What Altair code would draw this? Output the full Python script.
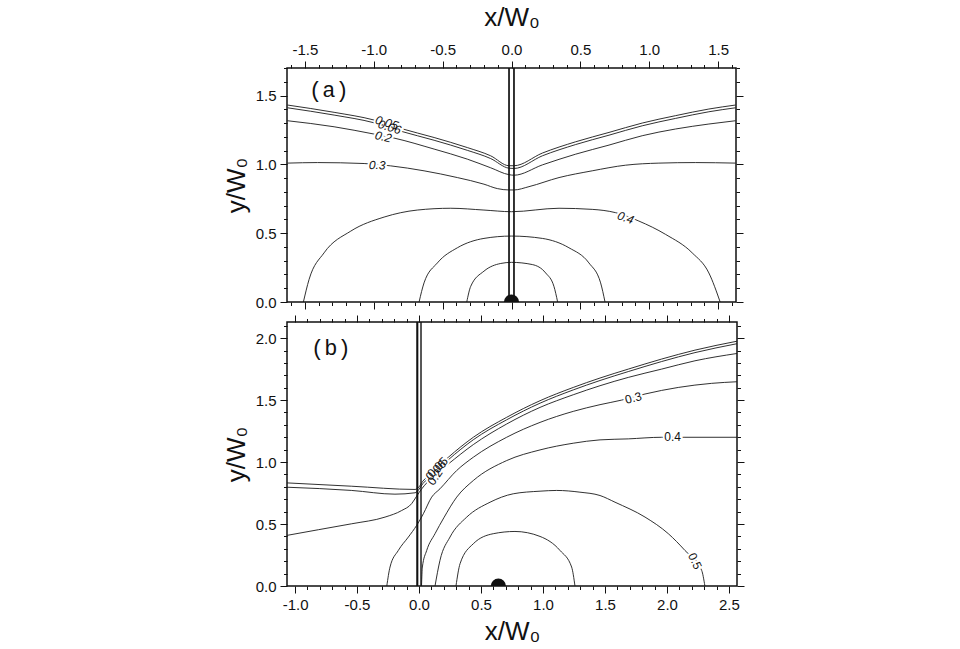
import altair as alt
import pandas as pd

FONT = "Liberation Sans"

# ---------------- panel (a) ----------------
a_x_domain = [-1.63, 1.63]
a_y_domain = [0.0, 1.70]
a_x_ticks = [round(i * 0.1, 1) for i in range(-16, 17)]
a_y_ticks = [round(i * 0.1, 1) for i in range(0, 18)]

a_005_x = [-1.627, -1.288, -0.998, -0.804, -0.562, -0.321, -0.151, -0.018, 0.018, 0.224, 0.466, 0.708, 0.949, 1.192, 1.433, 1.627]
a_005_y = [1.431, 1.378, 1.322, 1.261, 1.195, 1.122, 1.062, 0.990, 0.990, 1.082, 1.164, 1.232, 1.300, 1.354, 1.402, 1.431]
a_006_x = [-1.627, -1.288, -0.998, -0.804, -0.562, -0.321, -0.151, -0.018, 0.018, 0.224, 0.466, 0.708, 0.949, 1.192, 1.433, 1.627]
a_006_y = [1.411, 1.358, 1.302, 1.241, 1.175, 1.102, 1.042, 0.972, 0.970, 1.062, 1.144, 1.212, 1.280, 1.334, 1.382, 1.411]
a_02_x = [-1.627, -1.288, -0.998, -0.853, -0.562, -0.321, -0.151, -0.018, 0.018, 0.224, 0.466, 0.708, 0.949, 1.192, 1.433, 1.627]
a_02_y = [1.317, 1.273, 1.220, 1.191, 1.111, 1.038, 0.975, 0.925, 0.921, 0.996, 1.074, 1.140, 1.208, 1.257, 1.293, 1.317]
a_03_x = [-1.627, -1.409, -1.070, -0.877, -0.635, -0.393, -0.200, -0.103, -0.018, 0.018, 0.127, 0.345, 0.586, 0.829, 1.070, 1.337, 1.627]
a_03_y = [1.009, 1.013, 1.006, 0.989, 0.953, 0.904, 0.856, 0.824, 0.814, 0.814, 0.838, 0.904, 0.953, 0.994, 1.009, 1.013, 1.009]
a_04_x = [-1.511, -1.470, -1.361, -1.167, -0.925, -0.684, -0.441, -0.200, 0.0, 0.345, 0.586, 0.756, 0.925, 1.119, 1.312, 1.433, 1.515]
a_04_y = [0.0, 0.163, 0.357, 0.515, 0.617, 0.668, 0.681, 0.668, 0.656, 0.681, 0.673, 0.649, 0.588, 0.491, 0.357, 0.211, 0.0]
a_05_x = [-0.671, -0.635, -0.538, -0.393, -0.200, 0.0, 0.224, 0.417, 0.562, 0.647, 0.679]
a_05_y = [0.0, 0.139, 0.284, 0.394, 0.462, 0.479, 0.462, 0.394, 0.284, 0.139, 0.0]
a_06_x = [-0.325, -0.296, -0.200, -0.078, 0.0, 0.151, 0.248, 0.308, 0.335]
a_06_y = [0.0, 0.114, 0.224, 0.280, 0.288, 0.272, 0.211, 0.114, 0.0]

a_label_text = ["0.05", "0.06", "0.2", "0.3", "0.4"]
a_label_x = [-0.905, -0.885, -0.931, -0.974, 0.829]
a_label_y = [1.302, 1.270, 1.200, 0.994, 0.612]
a_label_angle = [17, 17, 14, 2, 20]

a_walls = [-0.018, 0.018]
a_source_x = [0.0]
a_source_y = [0.0]
a_panel_label = ["(a)"]
a_panel_label_x = [-1.47]
a_panel_label_y = [1.543]

# ---------------- panel (b) ----------------
b_x_domain = [-1.065, 2.565]
b_y_domain = [0.0, 2.13]
b_x_ticks = [round(i * 0.1, 1) for i in range(-10, 26)]
b_y_ticks = [round(i * 0.1, 1) for i in range(0, 22)]

b_005_x = [-1.067, -0.543, -0.032, 0.0, 0.03, 0.07, 0.15, 0.237, 0.438, 0.707, 0.976, 1.244, 1.46, 1.688, 1.957, 2.226, 2.565]
b_005_y = [0.832, 0.805, 0.779, 0.80, 0.845, 0.885, 0.96, 1.039, 1.2, 1.361, 1.495, 1.602, 1.678, 1.75, 1.831, 1.903, 1.975]
b_006_x = [-1.067, -0.543, -0.194, -0.032, 0.0, 0.03, 0.07, 0.15, 0.237, 0.438, 0.707, 0.976, 1.244, 1.46, 1.688, 1.957, 2.226, 2.565]
b_006_y = [0.797, 0.771, 0.741, 0.752, 0.78, 0.825, 0.865, 0.94, 1.019, 1.18, 1.341, 1.475, 1.582, 1.658, 1.73, 1.811, 1.883, 1.955]
b_02_x = [-1.067, -0.812, -0.543, -0.274, -0.14, -0.059, -0.019, 0.022, 0.1, 0.169, 0.237, 0.438, 0.707, 0.976, 1.244, 1.46, 1.688, 1.957, 2.226, 2.565]
b_02_y = [0.408, 0.454, 0.502, 0.556, 0.609, 0.665, 0.725, 0.784, 0.87, 0.93, 0.985, 1.141, 1.307, 1.441, 1.543, 1.616, 1.683, 1.75, 1.817, 1.876]
b_03_x = [-0.26, -0.234, -0.167, -0.086, -0.019, 0.035, 0.102, 0.169, 0.304, 0.438, 0.707, 0.976, 1.244, 1.46, 1.635, 1.823, 2.091, 2.36, 2.565]
b_03_y = [0.0, 0.153, 0.287, 0.395, 0.489, 0.583, 0.717, 0.784, 0.932, 1.039, 1.2, 1.32, 1.409, 1.463, 1.5, 1.549, 1.602, 1.635, 1.648]
b_04_x = [0.02, 0.027, 0.062, 0.129, 0.2, 0.304, 0.438, 0.707, 0.976, 1.244, 1.46, 1.688, 1.957, 2.145, 2.565]
b_04_y = [0.0, 0.153, 0.287, 0.422, 0.55, 0.717, 0.851, 1.012, 1.098, 1.152, 1.179, 1.187, 1.2, 1.2, 1.2]
b_05_x = [0.129, 0.169, 0.25, 0.385, 0.573, 0.76, 0.976, 1.11, 1.298, 1.46, 1.581, 1.823, 2.011, 2.145, 2.28, 2.306]
b_05_y = [0.0, 0.207, 0.395, 0.556, 0.676, 0.744, 0.765, 0.771, 0.757, 0.73, 0.676, 0.556, 0.422, 0.287, 0.126, 0.0]
b_06_x = [0.298, 0.331, 0.438, 0.599, 0.774, 0.976, 1.137, 1.231, 1.258]
b_06_y = [0.0, 0.18, 0.341, 0.422, 0.44, 0.4, 0.287, 0.153, 0.0]

b_label_text = ["0.05", "0.06", "0.2", "0.3", "0.4", "0.5"]
b_label_x = [0.150, 0.136, 0.129, 1.728, 2.046, 2.226]
b_label_y = [0.958, 0.935, 0.878, 1.517, 1.200, 0.201]
b_label_angle = [315, 315, 305, 345, 0, 65]

b_walls = [-0.014, 0.016]
b_source_x = [0.64]
b_source_y = [0.0]
b_panel_label = ["(b)"]
b_panel_label_x = [-0.871]
b_panel_label_y = [1.922]

levels = ["0.05", "0.06", "0.2", "0.3", "0.4", "0.5", "0.6"]


def lines_frame(pairs):
    rows = []
    for lev, (xs, ys) in zip(levels, pairs):
        for i, (x, y) in enumerate(zip(xs, ys)):
            rows.append({"level": lev, "i": i, "x": x, "y": y})
    return pd.DataFrame(rows)


MAJOR = "abs(round(datum.value*10)) % 5 == 0"
TICK_SIZE = {"condition": {"test": MAJOR, "value": 7}, "value": 3.5}
LABEL_EXPR = ("abs(round(datum.value*10)) % 5 == 0 ? "
              "(datum.value < -0.01 ? '-' : '') + format(abs(datum.value), '.1f') : ''")


def axis(orient, ticks, labels, title, title_pad=6):
    kw = dict(orient=orient, values=ticks, labels=labels, tickSize=TICK_SIZE,
              labelExpr=LABEL_EXPR, labelOverlap=False, labelFlush=False,
              domain=False, grid=False, labelPadding=4, tickColor="#111",
              tickWidth=1)
    if title:
        kw["title"] = title
        kw["titlePadding"] = title_pad
    else:
        kw["title"] = None
    return alt.Axis(**kw)


def panel(pairs, lab_t, lab_x, lab_y, lab_a, walls, wall_w, sx, sy, pl, plx, ply,
          xdom, ydom, xticks, yticks, w, h, top_lab, bottom_lab, italic):
    xs = alt.Scale(domain=xdom, nice=False, zero=False)
    ys = alt.Scale(domain=ydom, nice=False, zero=False)
    df = lines_frame(pairs)
    lines = alt.Chart(df).mark_line(color="#1a1a1a", strokeWidth=0.9,
                                    interpolate="monotone", clip=True).encode(
        x=alt.X("x:Q", scale=xs,
                axis=axis("bottom", xticks, bottom_lab, "x/W₀" if bottom_lab else None)),
        y=alt.Y("y:Q", scale=ys, axis=axis("left", yticks, True, "y/W₀")),
        detail="level:N",
        order="i:Q",
    )
    wdf = pd.DataFrame({"wx": walls, "sw": wall_w})
    wall = alt.Chart(wdf).mark_rule(color="#111").encode(
        x=alt.X("wx:Q", scale=xs,
                axis=axis("top", xticks, top_lab, "x/W₀" if top_lab else None, 12)),
        strokeWidth=alt.StrokeWidth("sw:Q", scale=None),
    )
    sdf = pd.DataFrame({"sx": sx, "sy": sy})
    src = alt.Chart(sdf).mark_circle(color="#111", opacity=1, size=230, clip=True).encode(
        x=alt.X("sx:Q", scale=xs, axis=None),
        y=alt.Y("sy:Q", scale=ys, axis=axis("right", yticks, False, None)),
    )
    ldf = pd.DataFrame({"t": lab_t, "lx": lab_x, "ly": lab_y, "la": lab_a})
    style = "italic" if italic else "normal"
    halo = alt.Chart(ldf).mark_text(font=FONT, fontSize=12, fontStyle=style,
                                    color="white", stroke="white",
                                    strokeWidth=4).encode(
        x=alt.X("lx:Q", scale=xs, axis=None),
        y=alt.Y("ly:Q", scale=ys, axis=None),
        text="t:N",
        angle=alt.Angle("la:Q", scale=None),
    )
    txt = alt.Chart(ldf).mark_text(font=FONT, fontSize=12, fontStyle=style,
                                   color="#111").encode(
        x=alt.X("lx:Q", scale=xs, axis=None),
        y=alt.Y("ly:Q", scale=ys, axis=None),
        text="t:N",
        angle=alt.Angle("la:Q", scale=None),
    )
    pdf = pd.DataFrame({"p": pl, "px": plx, "py": ply})
    plab = alt.Chart(pdf).mark_text(font="Liberation Mono", fontSize=22,
                                    align="left", baseline="middle",
                                    color="#111").encode(
        x=alt.X("px:Q", scale=xs, axis=None),
        y=alt.Y("py:Q", scale=ys, axis=None),
        text="p:N",
    )
    return alt.layer(lines, halo, txt, wall, src, plab).properties(width=w, height=h)


pa = panel([(a_005_x, a_005_y), (a_006_x, a_006_y), (a_02_x, a_02_y), (a_03_x, a_03_y),
            (a_04_x, a_04_y), (a_05_x, a_05_y), (a_06_x, a_06_y)],
           a_label_text, a_label_x, a_label_y, a_label_angle,
           a_walls, [1.7, 1.7], a_source_x, a_source_y,
           a_panel_label, a_panel_label_x, a_panel_label_y,
           a_x_domain, a_y_domain, a_x_ticks, a_y_ticks, 449, 234,
           True, False, True)

pb = panel([(b_005_x, b_005_y), (b_006_x, b_006_y), (b_02_x, b_02_y), (b_03_x, b_03_y),
            (b_04_x, b_04_y), (b_05_x, b_05_y), (b_06_x, b_06_y)],
           b_label_text, b_label_x, b_label_y, b_label_angle,
           b_walls, [2.1, 1.4], b_source_x, b_source_y,
           b_panel_label, b_panel_label_x, b_panel_label_y,
           b_x_domain, b_y_domain, b_x_ticks, b_y_ticks, 450, 264,
           False, True, False)

chart = alt.vconcat(pa, pb, spacing=2).properties(
    padding={"left": 222, "top": 3, "right": 5, "bottom": 5},
    background="white",
).configure_view(
    stroke="#111", strokeWidth=1.5
).configure_axis(
    labelFont=FONT, labelFontSize=15, labelColor="#111",
    titleFont=FONT, titleFontSize=26, titleFontWeight="normal", titleColor="#111",
)

chart.save("out.html", embed_options={"renderer": "svg", "actions": False})
